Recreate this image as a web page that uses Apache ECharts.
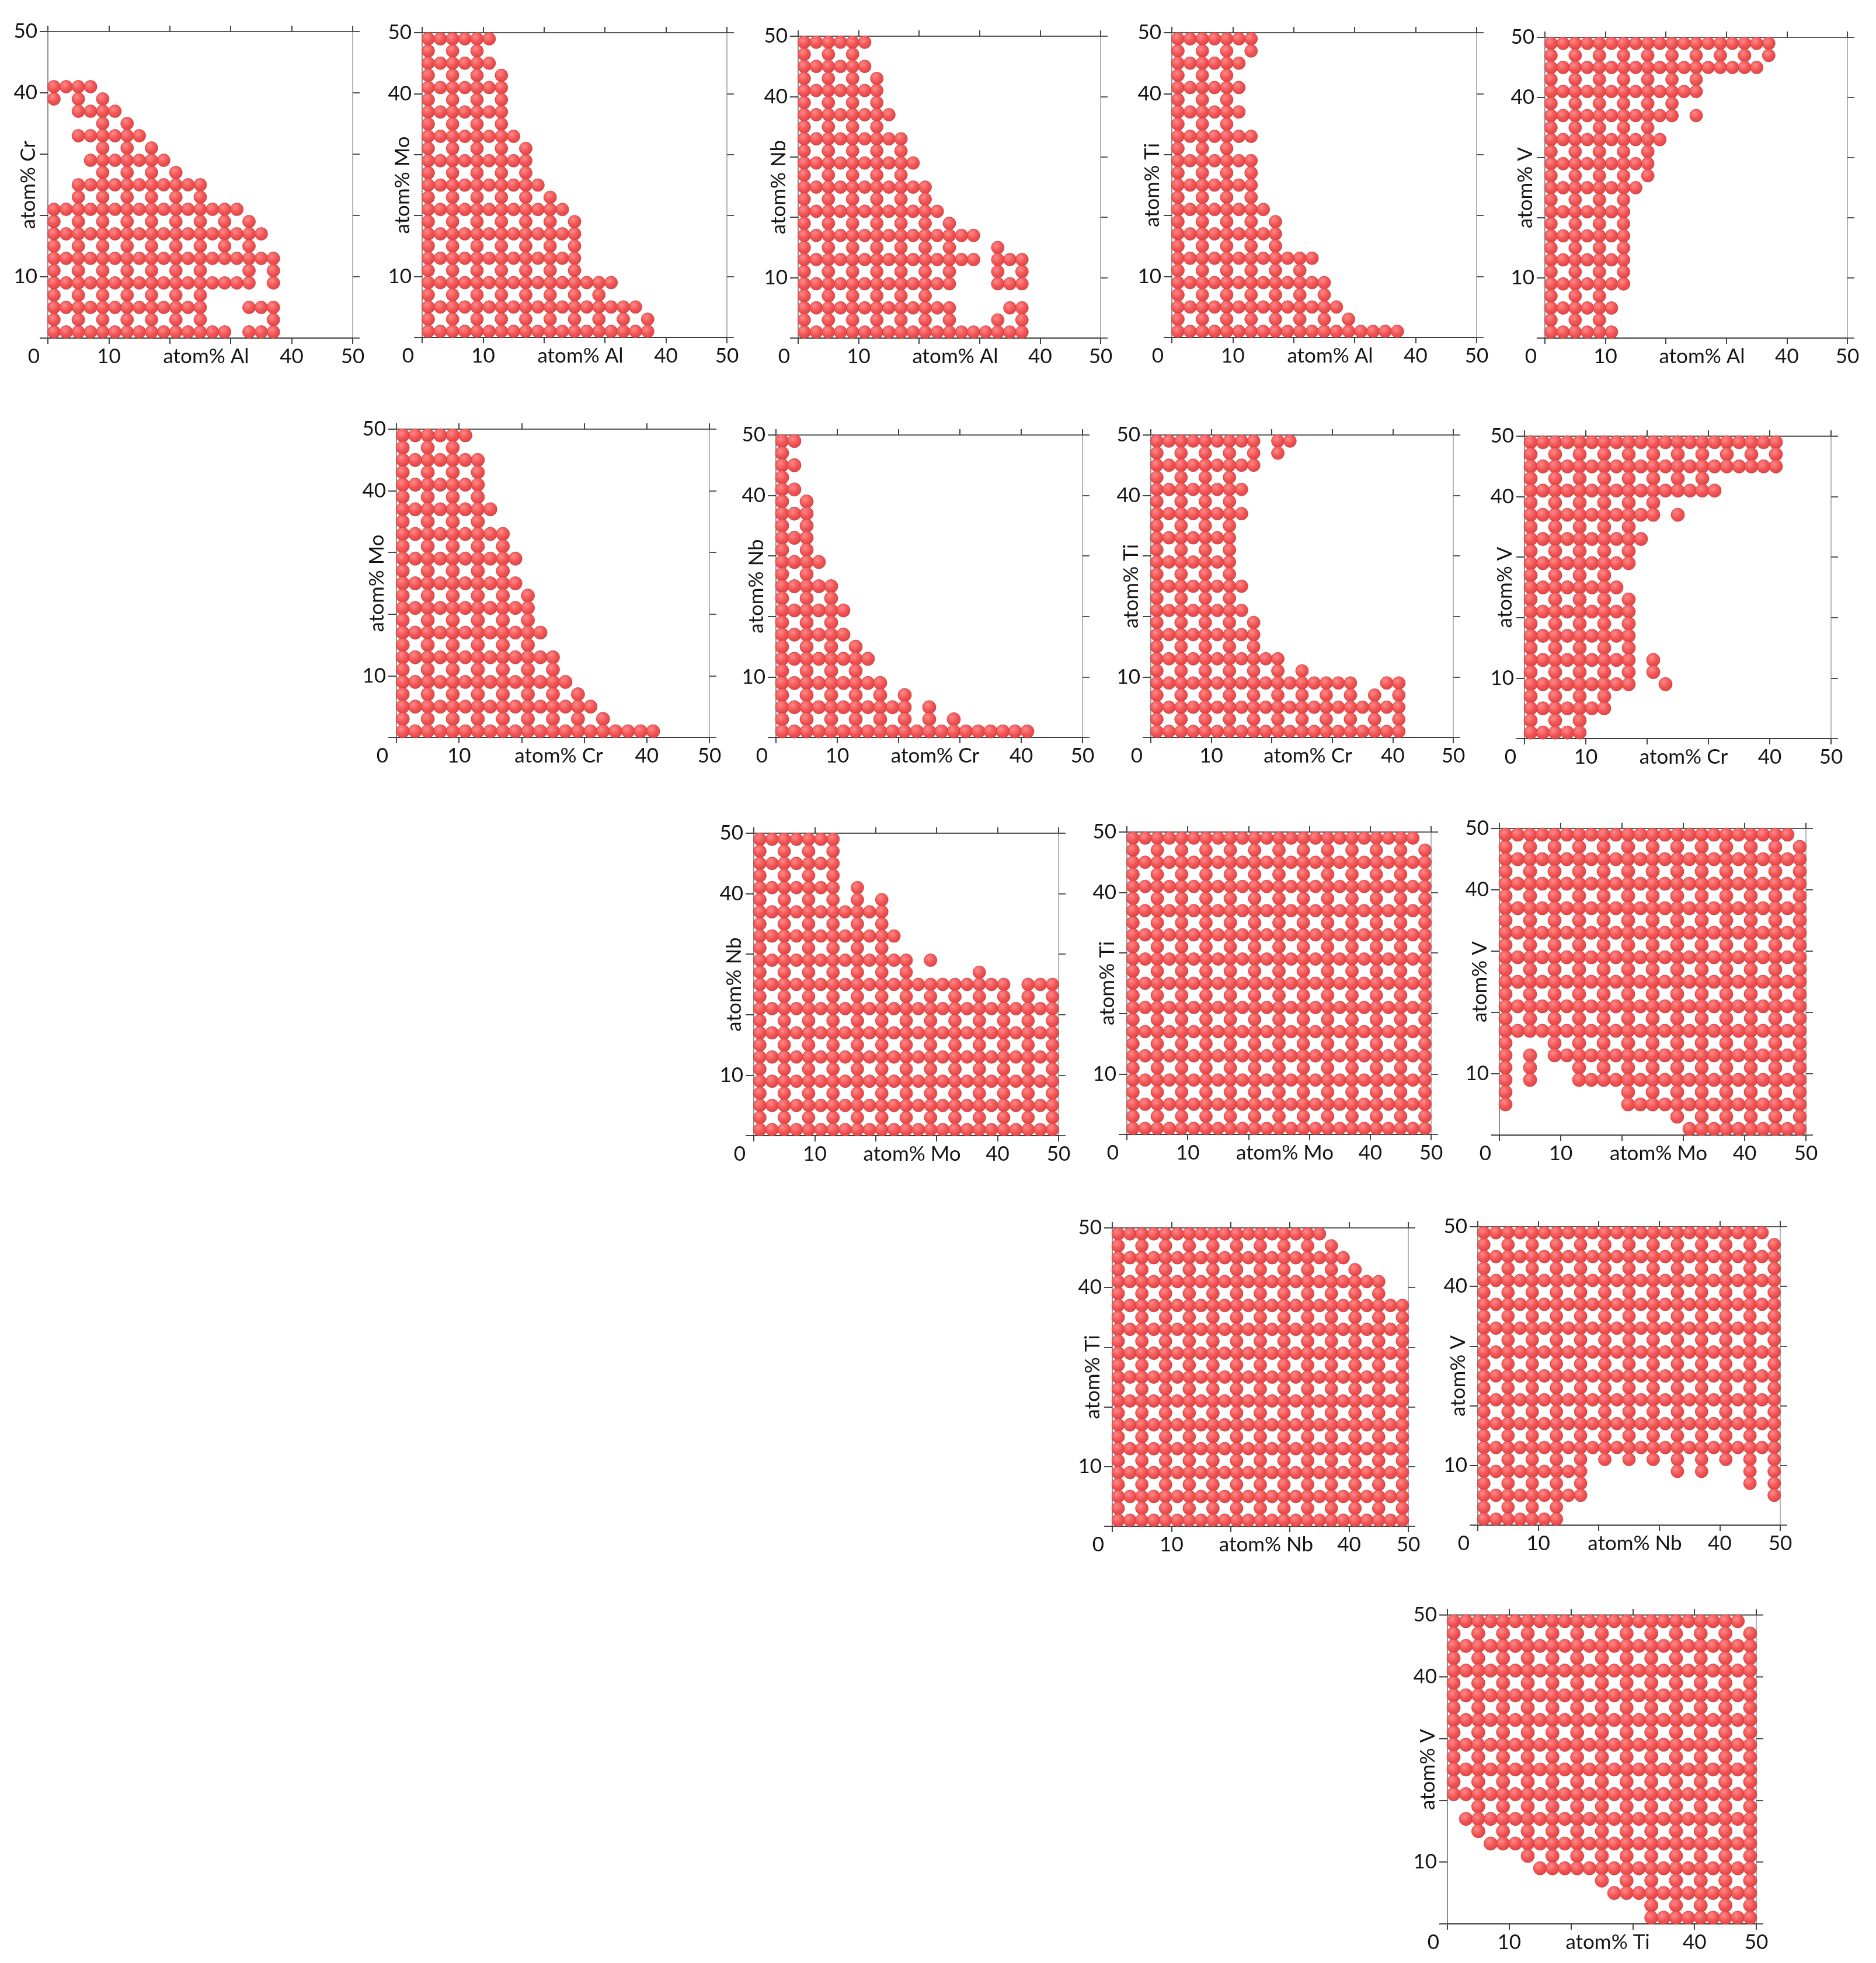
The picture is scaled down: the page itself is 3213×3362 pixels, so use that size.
<!DOCTYPE html>
<html>
<head>
<meta charset="utf-8">
<script src="https://cdn.jsdelivr.net/npm/echarts@6/dist/echarts.min.js"></script>
<style>
html, body { margin: 0; padding: 0; background: #fff; }
#chart { width: 3213px; height: 3362px; }
</style>
</head>
<body>
<div id="chart"></div>
<script>
// grid positions of the composition points (atom%)
const gridX = [1, 3, 5, 7, 9, 11, 13, 15, 17, 19, 21, 23, 25, 27, 29, 31, 33, 35, 37, 39, 41, 43, 45, 47, 49];
const gridY = [49, 47, 45, 43, 41, 39, 37, 35, 33, 31, 29, 27, 25, 23, 21, 19, 17, 15, 13, 11, 9, 7, 5, 3, 1];

// one string per row (top row = 49 at%), one char per column ('#' = point)
const F = '#########################';
const H = '#.#.#.#.#.#.#.#.#.#.#.#.#';

const alCr = ['', '', '', '', '####', '#.#.#', '..####', '....#.#', '..######', '....#.#.#',
  '...#######', '....#.#.#.#', '..###########', '..#.#.#.#.#.#', '################',
  '#.#.#.#.#.#.#.#.#', '##################', '#.#.#.#.#.#.#.#.#', '###################',
  '#.#.#.#.#.#.#...#.#', '#################.#', '#.#.#.#.#.#.#', '#############...###',
  '#.#.#.#.#.#.#.....#', '###############.###'];

const alMo = ['######', '#.#.#', '######', '#.#.#.#', '#######', '#.#.#.#', '#######', '#.#.#.#',
  '########', '#.#.#.#.#', '#########', '#.#.#.#.#', '##########', '#.#.#.#.#.#', '############',
  '#.#.#.#.#.#.#', '#############', '#.#.#.#.#.#.#', '#############', '#.#.#.#.#.#.#',
  '################', '#.#.#.#.#.#.#.#', '##################', '#.#.#.#.#.#.#.#.#.#',
  '###################'];

const alNb = ['######', '#.#.#', '######', '#.#.#.#', '#######', '#.#.#.#', '########', '#.#.#.#',
  '#########', '#.#.#.#.#', '##########', '#.#.#.#.#', '###########', '#.#.#.#.#.#', '############',
  '#.#.#.#.#.#.#', '###############', '#.#.#.#.#.#.#...#', '###############.###',
  '#.#.#.#.#.#.#...#.#', '#############...###', '#.#.#.#.#.#', '#############....##',
  '#.#.#.#.#.#.#...#.#', '###################'];

const alTi = ['#######', '#.#.#.#', '######', '#.#.#', '######', '#.#.#', '######', '#.#.#',
  '#######', '#.#.#', '#######', '#.#.#.#', '#######', '#.#.#.#', '########', '#.#.#.#.#',
  '#########', '#.#.#.#.#', '############', '#.#.#.#.#.#', '#############', '#.#.#.#.#.#.#',
  '##############', '#.#.#.#.#.#.#.#', '###################'];

const alV = ['###################', '#.#.#.#.#.#.#.#.#.#', '##################', '#.#.#.#.#.#.#',
  '#############', '#.#.#.#.#.#', '###########.#', '#.#.#.#.#', '##########', '#.#.#.#.#',
  '#########', '#.#.#.#.#', '########', '#.#.#.#', '#######', '#.#.#.#', '#######', '#.#.#.#',
  '#######', '#.#.#.#', '#######', '#.#.#', '######', '#.#.#', '######'];

const crMo = ['######', '#.#.#', '#######', '#.#.#.#', '#######', '#.#.#.#', '########', '#.#.#.#',
  '#########', '#.#.#.#.#', '##########', '#.#.#.#.#', '##########', '#.#.#.#.#.#', '###########',
  '#.#.#.#.#.#', '############', '#.#.#.#.#.#', '#############', '#.#.#.#.#.#.#', '##############',
  '#.#.#.#.#.#.#.#', '################', '#.#.#.#.#.#.#.#.#', '#####################'];

const crNb = ['##', '#', '##', '#', '##', '#.#', '###', '#.#', '###', '#.#', '####', '#.#', '#####',
  '#.#.#', '######', '#.#.#', '######', '#.#.#.#', '########', '#.#.#.#', '#########',
  '#.#.#.#.#.#', '###########.#', '#.#.#.#.#.#.#.#', '#####################'];

const crTi = ['#########.##', '#.#.#.#.#.#', '#########', '#.#.#.#', '########', '#.#.#.#', '########',
  '#.#.#.#', '#######', '#.#.#.#', '#######', '#.#.#.#', '########', '#.#.#.#', '########',
  '#.#.#.#.#', '#########', '#.#.#.#.#', '###########', '#.#.#.#.#.#.#', '#################..##',
  '#.#.#.#.#.#.#.#.#.#.#', '#####################', '#.#.#.#.#.#.#.#.#.#.#', '#####################'];

const crV = ['#####################', '#.#.#.#.#.#.#.#.#.#.#', '#####################', '#.#.#.#.#.#.#.#',
  '################', '#.#.#.#.#.#', '###########.#', '#.#.#.#.#', '##########', '#.#.#.#.#',
  '#########', '#.#.#.#', '########', '#.#.#.#.#', '#########', '#.#.#.#.#', '#########', '#.#.#.#.#',
  '#########.#', '#.#.#.#.#.#', '#########..#', '#.#.#.#', '#######', '#.#.#', '#####'];

const moNb = ['#######', '#.#.#.#', '#######', '#.#.#.#', '#######.#', '#.#.#.#.#.#', '###########',
  '#.#.#.#.#.#', '############', '#.#.#.#.#.#', '#############.#', '#.#.#.#.#.#.#.....#',
  '#####################.###', H, F, H, F, H, F, H, F, H, F, H, F];

const moTi = ['########################', H, F, H, F, H, F, H, F, H, F, H, F, H, F, H, F, H, F, H, F,
  H, F, H, F];

const moV = ['########################', H, F, H, F, H, F, H, F, H, F, H, F, H, F, H, F,
  '#...#.#.#.#.#.#.#.#.#.#.#', '#.#.#####################', '#.#...#.#.#.#.#.#.#.#.#.#',
  '#.#...###################', '#.........#.#.#.#.#.#.#.#', '#.........###############',
  '..............#.#.#.#.#.#', '...............##########'];

const nbTi = ['##################', '#.#.#.#.#.#.#.#.#.#', '####################', '#.#.#.#.#.#.#.#.#.#.#',
  '#######################', '#.#.#.#.#.#.#.#.#.#.#.#', F, H, F, H, F, H, F, H, F, H, F, H, F, H,
  F, H, F, H, F];

const nbV = ['########################', H, F, H, F, H, F, H, F, H, F, H, F, H, F, H, F, H, F, H,
  '#########.......#.#...#.#', '#.#.#.#.#.............#.#', '#########...............#',
  '#.#.#.#', '#######'];

const tiV = ['########################', H, F, H, F, H, F, H, F, H, F, H, F, H, F,
  '..#.#.#.#.#.#.#.#.#.#.#.#', '.########################', '..#.#.#.#.#.#.#.#.#.#.#.#',
  '...######################', '......#.#.#.#.#.#.#.#.#.#', '.......##################',
  '............#.#.#.#.#.#.#', '.............############', '................#.#.#.#.#',
  '................#########'];

const panelX = ['Al', 'Al', 'Al', 'Al', 'Al', 'Cr', 'Cr', 'Cr', 'Cr', 'Mo', 'Mo', 'Mo', 'Nb', 'Nb', 'Ti'];
const panelY = ['Cr', 'Mo', 'Nb', 'Ti', 'V', 'Mo', 'Nb', 'Ti', 'V', 'Nb', 'Ti', 'V', 'Ti', 'V', 'V'];
const panelRows = [alCr, alMo, alNb, alTi, alV, crMo, crNb, crTi, crV, moNb, moTi, moV, nbTi, nbV, tiV];

// plot boxes [left, top, width, height] in px
const boxes = [
  [82, 54, 522, 525], [723, 56, 522, 522], [1367, 62, 518, 517], [2007, 56, 522, 522], [2646, 64, 518, 515],
  [679, 735, 536, 528], [1329, 745, 525, 518], [1971, 745, 518, 518], [2611, 747, 525, 518],
  [1291, 1427, 522, 518], [1930, 1425, 521, 518], [2568, 1419, 525, 525],
  [1905, 2103, 507, 511], [2531, 2101, 518, 511],
  [2479, 2766, 529, 529]
];

const FONT = 'Lato';
const TXT = '#141414';
const FS = 35;

function toPoints(rows) {
  const pts = [];
  rows.forEach(function (row, r) {
    for (let k = 0; k < row.length; k++) {
      if (row[k] === '#') pts.push([gridX[k], gridY[r]]);
    }
  });
  return pts;
}

const chart = echarts.init(document.getElementById('chart'), null, { renderer: 'canvas' });

const grids = [], xAxes = [], yAxes = [], series = [];
const dotColor = new echarts.graphic.RadialGradient(0.38, 0.34, 0.7, [
  { offset: 0, color: '#ff8a8a' },
  { offset: 0.55, color: '#f35454' },
  { offset: 1, color: '#da4444' }
]);

panelRows.forEach(function (rows, i) {
  const b = boxes[i];
  grids.push({ left: b[0], top: b[1], width: b[2], height: b[3], containLabel: false, outerBoundsMode: 'none' });
  const base = { gridIndex: i, type: 'value', min: 0, max: 50, interval: 10, splitLine: { show: false } };
  const txt = { fontFamily: FONT, fontSize: FS, color: TXT };

  xAxes.push(Object.assign({}, base, {
    position: 'bottom',
    axisLine: { onZero: false, lineStyle: { color: '#3c3c3c', width: 2 } },
    axisTick: { length: 10, lineStyle: { color: '#444', width: 2 } },
    axisLabel: Object.assign({}, txt, {
      margin: 14,
      formatter: function (v) {
        if (v === 0) return '{z|0}';
        if (v === 20 || v === 30) return '';
        return String(v);
      },
      rich: { z: Object.assign({}, txt, { padding: [0, 48, 0, 0] }) }
    }),
    name: 'atom% ' + panelX[i],
    nameLocation: 'middle',
    nameGap: 14,
    nameMoveOverlap: false,
    nameTextStyle: Object.assign({}, txt, { padding: [0, 0, 0, 20] })
  }));
  xAxes.push(Object.assign({}, base, {
    position: 'top',
    axisLine: { onZero: false, lineStyle: { color: '#5a5a5a', width: 2 } },
    axisTick: { length: 10, lineStyle: { color: '#444', width: 2 } },
    axisLabel: { show: false }
  }));
  yAxes.push(Object.assign({}, base, {
    position: 'left',
    axisLine: { onZero: false, lineStyle: { color: '#8c8c8c', width: 2 } },
    axisTick: { length: 14, lineStyle: { color: '#444', width: 2 } },
    axisLabel: Object.assign({}, txt, {
      margin: 18,
      formatter: function (v) { return (v === 10 || v === 40 || v === 50) ? String(v) : ''; }
    }),
    name: 'atom% ' + panelY[i],
    nameLocation: 'middle',
    nameRotate: 90,
    nameGap: 16,
    nameMoveOverlap: false,
    nameTextStyle: txt
  }));
  yAxes.push(Object.assign({}, base, {
    position: 'right',
    axisLine: { onZero: false, lineStyle: { color: '#b4b4b4', width: 2 } },
    axisTick: { length: 12, lineStyle: { color: '#555', width: 2 } },
    axisLabel: { show: false }
  }));

  series.push({
    type: 'scatter',
    xAxisIndex: 2 * i,
    yAxisIndex: 2 * i,
    data: toPoints(rows),
    symbol: 'circle',
    symbolSize: Math.round(2.15 * b[2] / 50),
    silent: true,
    itemStyle: { color: dotColor, borderColor: 'rgba(200,56,56,0.7)', borderWidth: 1, opacity: 1 }
  });
});

chart.setOption({
  backgroundColor: '#ffffff',
  animation: false,
  grid: grids,
  xAxis: xAxes,
  yAxis: yAxes,
  series: series
});
</script>
</body>
</html>
